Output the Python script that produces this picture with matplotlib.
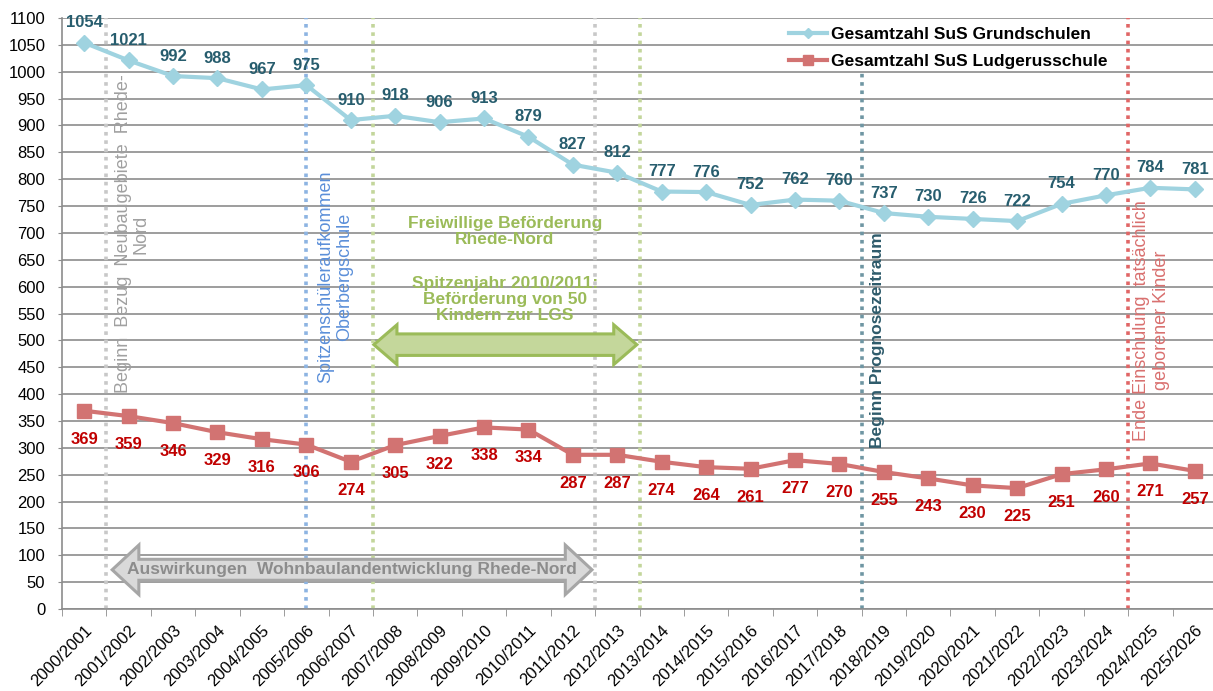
import numpy as np
import matplotlib.pyplot as plt
from matplotlib.patches import Polygon

plt.rcParams['font.family'] = ['Liberation Sans Narrow', 'Liberation Sans', 'DejaVu Sans']

years = ['2000/2001', '2001/2002', '2002/2003', '2003/2004', '2004/2005', '2005/2006',
         '2006/2007', '2007/2008', '2008/2009', '2009/2010', '2010/2011', '2011/2012',
         '2012/2013', '2013/2014', '2014/2015', '2015/2016', '2016/2017', '2017/2018',
         '2018/2019', '2019/2020', '2020/2021', '2021/2022', '2022/2023', '2023/2024',
         '2024/2025', '2025/2026']
grund = [1054, 1021, 992, 988, 967, 975, 910, 918, 906, 913, 879, 827, 812,
         777, 776, 752, 762, 760, 737, 730, 726, 722, 754, 770, 784, 781]
ludger = [369, 359, 346, 329, 316, 306, 274, 305, 322, 338, 334, 287, 287,
          274, 264, 261, 277, 270, 255, 243, 230, 225, 251, 260, 271, 257]

c_grund = '#9fd3e0'
c_ludger = '#d27372'
wide = ['Liberation Sans', 'DejaVu Sans']

fig = plt.figure(figsize=(12.13, 6.91), dpi=100)
ax = fig.add_axes([62/1213, 82/691, 1155/1213, 591/691])
x = np.arange(len(years))

# Gitternetz
for v in range(0, 1101, 50):
    ax.axhline(v, color='#8c8c8c', lw=1.2, zorder=0)

# senkrechte Markierungslinien
vlines = [(0.5, '#c8c8c8', 1100), (5.0, '#8db4e2', 1100), (6.5, '#c3d69b', 1100),
          (11.5, '#c8c8c8', 1100), (12.5, '#c3d69b', 1100), (17.5, '#6f96a3', 1000),
          (23.5, '#e06666', 1100)]
for xv, col, top in vlines:
    ax.plot([xv, xv], [0, top], color=col, lw=2.6, ls=(0, (1, 1.3)), zorder=1)

ax.plot(x, grund, color=c_grund, lw=3, marker='D', ms=8, zorder=4,
        label='Gesamtzahl SuS Grundschulen')
ax.plot(x, ludger, color=c_ludger, lw=3, marker='s', ms=10, zorder=4,
        label='Gesamtzahl SuS Ludgerusschule')

for i in range(len(years)):
    ax.annotate(str(grund[i]), (x[i], grund[i]), xytext=(0, 9), textcoords='offset points',
                ha='center', va='bottom', fontsize=12, fontweight='bold',
                color='#275d6e', zorder=6, annotation_clip=False)
    ax.annotate(str(ludger[i]), (x[i], ludger[i]), xytext=(0, -15), textcoords='offset points',
                ha='center', va='top', fontsize=12, fontweight='bold',
                color='#c00000', zorder=6)


def double_arrow(x0, x1, yc, shaft, head, hlen, fc, ec):
    pts = [(x0, yc), (x0 + hlen, yc + head), (x0 + hlen, yc + shaft),
           (x1 - hlen, yc + shaft), (x1 - hlen, yc + head), (x1, yc),
           (x1 - hlen, yc - head), (x1 - hlen, yc - shaft), (x0 + hlen, yc - shaft),
           (x0 + hlen, yc - head)]
    ax.add_patch(Polygon(pts, closed=True, fc=fc, ec=ec, lw=2.2, zorder=3))


double_arrow(6.52, 12.44, 492, 20, 37, 0.52, '#c4d79b', '#9bbb59')
double_arrow(0.63, 11.43, 73, 19.5, 46, 0.6, '#d9d9d9', '#a6a6a6')

ax.text(6.03, 73, 'Auswirkungen  Wohnbaulandentwicklung Rhede-Nord', ha='center',
        va='center', fontsize=12.5, fontweight='bold', color='#8c8c8c', zorder=5)
ax.text(9.47, 703, 'Freiwillige Beförderung\nRhede-Nord', ha='center', va='center',
        fontsize=12.5, fontweight='bold', color='#9bbb59', linespacing=1.1)
ax.text(9.47, 576, 'Spitzenjahr 2010/2011:\nBeförderung von 50\nKindern zur LGS',
        ha='center', va='center', fontsize=12.5, fontweight='bold', color='#9bbb59',
        linespacing=1.1)
ax.text(1.08, 698, 'Beginn  Bezug  Neubaugebiete  Rhede-\nNord', rotation=90,
        ha='center', va='center', fontsize=13, color='#a0a0a0', linespacing=1.1,
        multialignment='center')
ax.text(5.65, 618, 'Spitzenschüleraufkommen\nOberbergschule', rotation=90,
        ha='center', va='center', fontsize=13, color='#5b8fd9', linespacing=1.2,
        multialignment='center')
ax.text(17.86, 500, 'Beginn Prognosezeitraum', rotation=90, ha='center', va='center',
        fontsize=12.5, color='#2e5b6b', fontweight='bold')
ax.text(24.02, 537, 'Ende Einschulung  tatsächlich\ngeborener Kinder', rotation=90,
        ha='center', va='center', fontsize=13, color='#d9706f', linespacing=1.25,
        multialignment='center')

ax.set_xlim(-0.5, len(years) - 0.5)
ax.set_ylim(0, 1100)
ax.set_yticks(range(0, 1101, 50))
ax.set_yticklabels([str(v) for v in range(0, 1101, 50)], family=wide, fontsize=12)
ax.tick_params(axis='y', length=3, color='#8c8c8c', pad=9)
ax.set_xticks(x)
ax.set_xticklabels(years, rotation=45, ha='right', rotation_mode='anchor', fontsize=12)
ax.set_xticks(np.arange(-0.5, len(years), 1), minor=True)
ax.tick_params(axis='x', which='major', length=0, pad=10)
ax.tick_params(axis='x', which='minor', length=5, color='#8c8c8c')
for s in ['top', 'right']:
    ax.spines[s].set_visible(False)
for s in ['left', 'bottom']:
    ax.spines[s].set_color('#8c8c8c')
    ax.spines[s].set_linewidth(1.2)

ax.legend(loc='upper left', bbox_to_anchor=(773/1213, 1 - 11/691),
          bbox_transform=fig.transFigure, frameon=False,
          prop={'weight': 'bold', 'size': 12.5}, handlelength=2.2,
          handletextpad=0.25, labelspacing=0.7, markerscale=0.7)

fig.savefig('out.png', dpi=100)
